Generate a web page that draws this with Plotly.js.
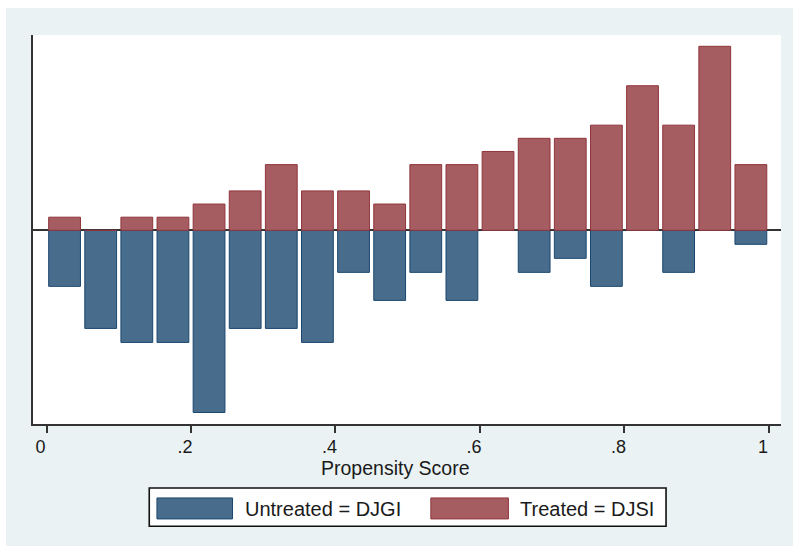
<!DOCTYPE html>
<html>
<head>
<meta charset="utf-8">
<script src="https://cdn.plot.ly/plotly-3.0.1.min.js"></script>
<style>
  html, body { margin: 0; padding: 0; background: #ffffff; }
  #chart { position: absolute; left: 6px; top: 8px; width: 787px; height: 538px; }
</style>
</head>
<body>
<div id="chart"></div>
<script>
// ---- data (counts per propensity-score bin of width .05) ----
var binCenters = [0.025, 0.075, 0.125, 0.175, 0.225, 0.275, 0.325, 0.375, 0.425, 0.475,
                  0.525, 0.575, 0.625, 0.675, 0.725, 0.775, 0.825, 0.875, 0.925, 0.975];
var treatedCounts   = [1, 0, 1, 1, 2, 3, 5, 3, 3, 2, 5, 5, 6, 7, 7, 8, 11, 8, 14, 5];
var untreatedCounts = [4, 7, 8, 8, 13, 7, 7, 8, 3, 5, 3, 5, 0, 3, 2, 4, 0, 3, 0, 1];
var binWidth = 0.05;
var tickVals  = [0, 0.2, 0.4, 0.6, 0.8, 1];
var tickTexts = ['0', '.2', '.4', '.6', '.8', '1'];
var xTitle = 'Propensity Score';
var untreatedName = 'Untreated = DJGI';
var treatedName = 'Treated = DJSI';

function sum(a) { return a.reduce(function (s, v) { return s + v; }, 0); }
var nT = sum(treatedCounts), nU = sum(untreatedCounts);
// densities (treated above the axis, untreated mirrored below)
var treatedDens   = treatedCounts.map(function (c) { return c / (nT * binWidth); });
var untreatedDens = untreatedCounts.map(function (c) { return -c / (nU * binWidth); });

var blueFill = '#486c8c', blueLine = '#1a476f';
var redFill  = '#a65d62', redLine  = '#90353b';
var FONT = 'Liberation Sans, Arial, sans-serif';
var txtCol = '#1a1a1a';
var FS = 20;

// page-pixel -> paper helpers (plot area: x 32.7..781, y 35..424.3 in page pixels)
var PX0 = 32.7, PX1 = 781, PY0 = 35, PY1 = 424.3;
function px(X) { return (X - PX0) / (PX1 - PX0); }
function py(Y) { return (PY1 - Y) / (PY1 - PY0); }

var traces = [
  { type: 'bar', x: binCenters, y: untreatedDens, width: binWidth * 0.88, name: untreatedName,
    marker: { color: blueFill, line: { color: blueLine, width: 1 } }, showlegend: false, hoverinfo: 'x+y' },
  { type: 'bar', x: binCenters, y: treatedDens, width: binWidth * 0.88, name: treatedName,
    marker: { color: redFill, line: { color: redLine, width: 1 } }, showlegend: false, hoverinfo: 'x+y' }
];

var layout = {
  width: 787, height: 538,
  margin: { l: 27, r: 12, t: 27, b: 122, pad: 0 },
  paper_bgcolor: '#eaf2f3',
  plot_bgcolor: '#ffffff',
  barmode: 'overlay',
  bargap: 0,
  showlegend: false,
  font: { family: FONT, size: FS, color: txtCol },
  xaxis: {
    range: [-0.0187, 1.0167],
    tickmode: 'array', tickvals: tickVals, ticktext: tickTexts,
    ticks: 'outside', ticklen: 7, tickwidth: 2, tickcolor: '#333333',
    ticklabelshift: -6,
    ticklabelstandoff: -2,
    tickfont: { family: FONT, size: 18, color: txtCol },
    showline: true, linecolor: '#333333', linewidth: 2,
    showgrid: false, zeroline: false
  },
  yaxis: {
    range: [-3.038, 3.064],
    showticklabels: false, ticks: '',
    showline: true, linecolor: '#333333', linewidth: 2,
    showgrid: false,
    zeroline: true, zerolinecolor: '#333333', zerolinewidth: 2
  },
  shapes: [
    // legend frame
    { type: 'rect', xref: 'paper', yref: 'paper', x0: px(149), x1: px(666), y0: py(488.3), y1: py(526.7),
      fillcolor: '#ffffff', line: { color: '#111111', width: 1.6 } },
    { type: 'rect', xref: 'paper', yref: 'paper', x0: px(156.7), x1: px(232.3), y0: py(498.3), y1: py(519.3),
      fillcolor: blueFill, line: { color: blueLine, width: 1 } },
    { type: 'rect', xref: 'paper', yref: 'paper', x0: px(430.7), x1: px(508.3), y0: py(498.3), y1: py(519.3),
      fillcolor: redFill, line: { color: redLine, width: 1 } }
  ],
  annotations: [
    { xref: 'paper', yref: 'paper', x: px(394.9), y: py(468.5), text: xTitle, showarrow: false,
      xanchor: 'center', yanchor: 'middle', font: { family: FONT, size: 19.5, color: txtCol } },
    { xref: 'paper', yref: 'paper', x: px(243), y: py(509), text: untreatedName, showarrow: false,
      xanchor: 'left', yanchor: 'middle', font: { family: FONT, size: FS, color: txtCol } },
    { xref: 'paper', yref: 'paper', x: px(518), y: py(509), text: treatedName, showarrow: false,
      xanchor: 'left', yanchor: 'middle', font: { family: FONT, size: FS, color: txtCol } }
  ]
};

Plotly.newPlot('chart', traces, layout, { displayModeBar: false, staticPlot: true });
</script>
</body>
</html>
